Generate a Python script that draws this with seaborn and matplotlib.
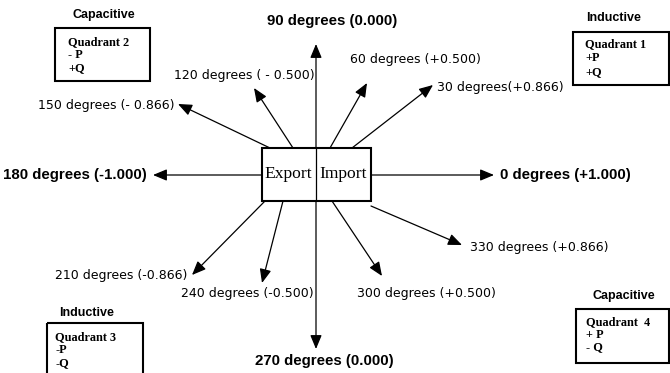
import matplotlib
matplotlib.use("Agg")
import seaborn as sns
from matplotlib import pyplot as plt
from matplotlib.patches import Rectangle

# arrow data (pixel coords of the original diagram, y grows downward)
angles = [0, 30, 60, 90, 120, 150, 180, 210, 240, 270, 300, 330]
arrow_start_x = [371, 352, 330, 316, 293, 270, 262, 265, 283, 316, 332, 371]
arrow_start_y = [175, 148, 148, 148, 148, 148, 175, 201, 201, 201, 201, 206]
arrow_tip_x = [494, 433, 367, 316, 254, 178, 153, 192, 262, 316, 382, 462]
arrow_tip_y = [175, 85, 83, 44, 88, 104, 175, 275, 283, 349, 276, 245]

labels = ['0 degrees (+1.000)', '30 degrees(+0.866)', '60 degrees (+0.500)',
          '90 degrees (0.000)', '120 degrees ( - 0.500)', '150 degrees (- 0.866)',
          '180 degrees (-1.000)', '210 degrees (-0.866)', '240 degrees (-0.500)',
          '270 degrees (0.000)', '300 degrees (+0.500)', '330 degrees (+0.866)']
label_x = [500, 437, 350, 332, 174, 174, 147, 187, 181, 324, 357, 470]
label_y = [175, 87, 60, 21, 75, 105, 175, 276, 293, 361, 294, 247]
label_ha = ['left', 'left', 'left', 'center', 'left', 'right', 'right', 'right',
            'left', 'center', 'left', 'left']
bold_angles = [0, 90, 180, 270]

# quadrant boxes
quad_titles = ['Capacitive', 'Inductive', 'Inductive', 'Capacitive']
quad_lines = [['Quadrant 2', '- P', '+Q'], ['Quadrant 1', '+P', '+Q'],
              ['Quadrant 3', '-P', '-Q'], ['Quadrant  4', '+ P', '- Q']]
quad_x = [55, 573, 47, 576]
quad_y = [28, 32, 323, 309]
quad_w = [95, 96, 96, 93]
quad_h = [53, 53, 60, 54]
quad_title_x = [104, 614, 87, 624]
quad_title_y = [15, 18, 313, 296]
quad_text_x = [68, 585, 55, 586]
quad_text_y = [42, 44, 337, 322]
quad_step = [13, 14, 13, 12.5]

sns.set_style("white")
fig, ax = plt.subplots(figsize=(6.7, 3.73), dpi=100)
fig.subplots_adjust(left=0, right=1, bottom=0, top=1)
ax.set_xlim(0, 670)
ax.set_ylim(373, 0)
ax.axis('off')

# vertical divider through the centre box
ax.plot([316, 316], [148, 201], color='black', lw=0.9)

for a, sx, sy, tx, ty, lab, lx, ly, ha in zip(angles, arrow_start_x, arrow_start_y,
                                             arrow_tip_x, arrow_tip_y, labels,
                                             label_x, label_y, label_ha):
    ax.annotate('', xy=(tx, ty), xytext=(sx, sy),
                arrowprops=dict(arrowstyle='-|>,head_length=0.6,head_width=0.25',
                                color='black', lw=0.9, mutation_scale=14,
                                shrinkA=0, shrinkB=0))
    if a in bold_angles:
        ax.text(lx, ly, lab, ha=ha, va='center', fontsize=10.8, color='black',
                fontweight='bold', family='Liberation Sans')
    else:
        ax.text(lx, ly, lab, ha=ha, va='center', fontsize=9, color='black',
                family='DejaVu Sans')

# centre box
ax.add_patch(Rectangle((262, 148), 109, 53, fill=False, ec='black', lw=1.5))
ax.text(288, 174, 'Export', ha='center', va='center', fontsize=12.6,
        color='black', family='Liberation Serif')
ax.text(343.5, 174, 'Import', ha='center', va='center', fontsize=12.6,
        color='black', family='Liberation Serif')

for i in range(len(quad_titles)):
    ax.add_patch(Rectangle((quad_x[i], quad_y[i]), quad_w[i], quad_h[i],
                           fill=False, ec='black', lw=1.5))
    ax.text(quad_title_x[i], quad_title_y[i], quad_titles[i], ha='center',
            va='center', fontsize=9, color='black', fontweight='bold',
            family='Liberation Sans')
    for j, line in enumerate(quad_lines[i]):
        ax.text(quad_text_x[i], quad_text_y[i] + j * quad_step[i], line,
                ha='left', va='center', fontsize=8.8, color='black',
                fontweight='bold', family='Liberation Serif')

fig.savefig('out.png', dpi=100)
